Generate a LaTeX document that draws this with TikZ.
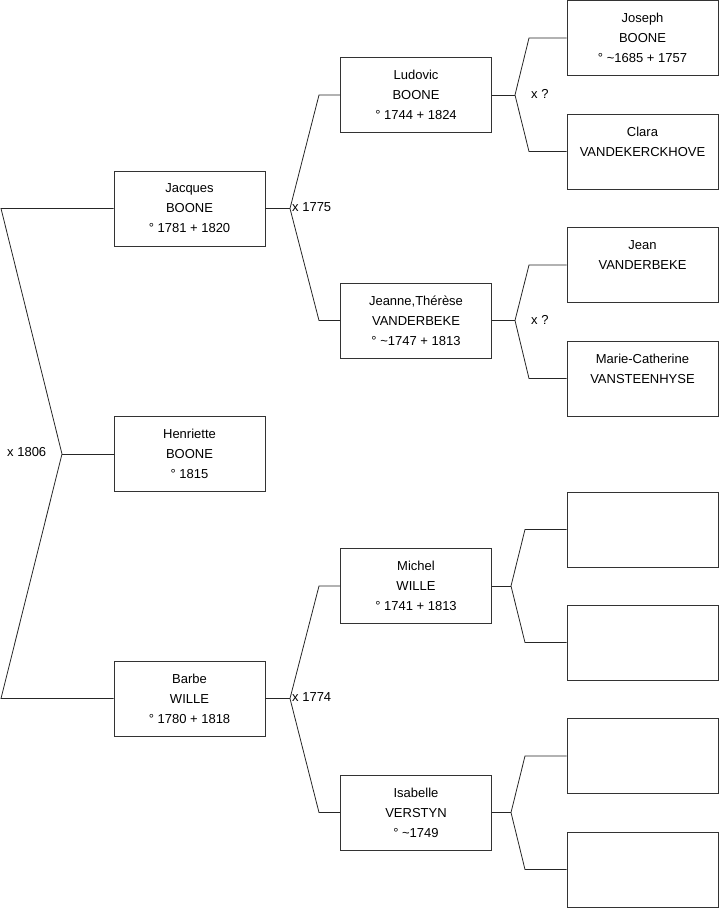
\documentclass[tikz,border=0pt]{standalone}
\usepackage{fontspec}
\setmainfont{Liberation Sans}
\begin{document}
\begin{tikzpicture}[x=1pt,y=-1pt,
    person/.style={draw=black!80, line width=0.8pt, minimum width=151pt, minimum height=75pt,
                   inner sep=0pt, align=center, font=\fontsize{13}{20}\selectfont},
    link/.style={draw=black!85, line width=0.8pt},
    wed/.style={anchor=west, inner sep=0pt, font=\fontsize{13}{16}\selectfont}]
    \useasboundingbox (0,0) rectangle (719,908);

    % Child
    \node[person] (jacques)   at (189.5,208.5) {Jacques\\BOONE\\° 1781 + 1820};
    \node[person] (henriette) at (189.5,454)   {Henriette\\BOONE\\° 1815};
    \node[person] (barbe)     at (189.5,698.5) {Barbe\\WILLE\\° 1780 + 1818};

    % Parents
    \node[person] (ludovic)  at (416,95)    {Ludovic\\BOONE\\° 1744 + 1824};
    \node[person] (jeanne)   at (416,320.5) {Jeanne,Thérèse\\VANDERBEKE\\° \textasciitilde1747 + 1813};
    \node[person] (michel)   at (416,586)   {Michel\\WILLE\\° 1741 + 1813};
    \node[person] (isabelle) at (416,812.5) {Isabelle\\VERSTYN\\° \textasciitilde1749};

    % Grandparents
    \node[person] (joseph) at (642.5,38)    {Joseph\\BOONE\\° \textasciitilde1685 + 1757};
    \node[person] (clara)  at (642.5,151.5) {Clara\\VANDEKERCKHOVE\\~};
    \node[person] (jean)   at (642.5,265)   {Jean\\VANDERBEKE\\~};
    \node[person] (marie)  at (642.5,378.5) {Marie-Catherine\\VANSTEENHYSE\\~};
    \node[person] (gp5) at (642.5,529.5) {};
    \node[person] (gp6) at (642.5,642.5) {};
    \node[person] (gp7) at (642.5,756)   {};
    \node[person] (gp8) at (642.5,869.5) {};

    % Marriage Jacques x Barbe
    \coordinate (w0)  at (62,454);
    \coordinate (w0a) at (1,208.5);
    \coordinate (w0b) at (1,698.5);
    \draw[link] (jacques.west) -- (w0a) -- (w0) -- (w0b) -- (barbe.west);
    \draw[link] (w0) -- (henriette.west);
    \node[wed] (m0) at (7,452) {x 1806};

    % Forks to the parents
    \coordinate (w1) at (290,208.5); \coordinate (w1a) at (319,95);  \coordinate (w1b) at (319,320.5);
    \coordinate (w2) at (290,698.5); \coordinate (w2a) at (319,586); \coordinate (w2b) at (319,812.5);
    \foreach \c/\n/\a/\b in {jacques/1/ludovic/jeanne, barbe/2/michel/isabelle} {
        \draw[link] (\c.east) -- (w\n);
        \draw[link] (\a.west) -- (w\n a) -- (w\n) -- (w\n b) -- (\b.west);
    }
    \node[wed] (m1) at (292,207) {x 1775};
    \node[wed] (m2) at (292,697) {x 1774};

    % Forks to the grandparents
    \coordinate (w3) at (515,95);    \coordinate (w3a) at (529,38);    \coordinate (w3b) at (529,151.5);
    \coordinate (w4) at (515,320.5); \coordinate (w4a) at (529,265);   \coordinate (w4b) at (529,378.5);
    \coordinate (w5) at (511,586);   \coordinate (w5a) at (525,529.5); \coordinate (w5b) at (525,642.5);
    \coordinate (w6) at (511,812.5); \coordinate (w6a) at (525,756);   \coordinate (w6b) at (525,869.5);
    \foreach \c/\n/\a/\b in {ludovic/3/joseph/clara, jeanne/4/jean/marie,
                             michel/5/gp5/gp6, isabelle/6/gp7/gp8} {
        \draw[link] (\c.east) -- (w\n);
        \draw[link] (\a.west) -- (w\n a) -- (w\n) -- (w\n b) -- (\b.west);
    }
    \node[wed] (m3) at (531,94)  {x ?};
    \node[wed] (m4) at (531,320) {x ?};
\end{tikzpicture}
\end{document}
